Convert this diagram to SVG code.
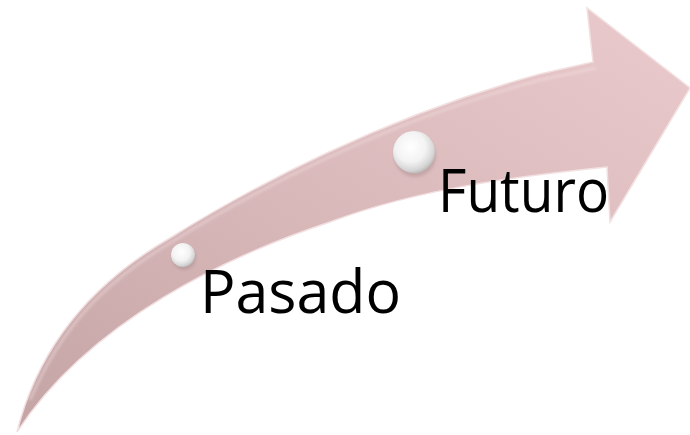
<svg xmlns="http://www.w3.org/2000/svg" width="690" height="435" viewBox="0 0 690 435">
  <defs>
    <linearGradient id="arrowFill" x1="0" y1="1" x2="1" y2="0">
      <stop offset="0" stop-color="#c4a4a5"/>
      <stop offset="0.45" stop-color="#d8b7b9"/>
      <stop offset="1" stop-color="#eacacc"/>
    </linearGradient>
    <radialGradient id="pearl" cx="0.42" cy="0.38" r="0.65">
      <stop offset="0" stop-color="#ffffff"/>
      <stop offset="0.55" stop-color="#f3f3f3"/>
      <stop offset="0.85" stop-color="#d6d6d6"/>
      <stop offset="1" stop-color="#b9b9b9"/>
    </radialGradient>
    <filter id="soft" x="-20%" y="-20%" width="140%" height="140%">
      <feGaussianBlur stdDeviation="1.5"/>
    </filter>
    <style>
      .label { font-family: "Open Sans", "Noto Sans", "Liberation Sans", sans-serif; font-size: 60px; fill: #000000; }
    </style>
  </defs>

  <g id="arrow">
    <path d="M17,432 C35,360 80,290 170,238 C250,188 380,118 540,74 L593,62 L587,8 L690,88 L610,222 L607,167 C520,176 420,188 330,222 C230,255 90,320 17,432 Z" fill="url(#arrowFill)" stroke="#f2e0e1" stroke-width="1.5"/>
    <path d="M30,400 C60,330 100,285 170,243 C250,193 380,123 540,80 L596,68" fill="none" stroke="#f4e4e5" stroke-width="2" opacity="0.6" filter="url(#soft)"/>
  </g>

  <g id="node-pasado">
    <circle cx="184" cy="258" r="12" fill="#9a8080" opacity="0.35" filter="url(#soft)"/>
    <circle cx="183" cy="255" r="12" fill="url(#pearl)"/>
    <text class="label" x="200" y="313" textLength="201" lengthAdjust="spacingAndGlyphs">Pasado</text>
  </g>

  <g id="node-futuro">
    <circle cx="415" cy="156" r="21" fill="#9a8080" opacity="0.35" filter="url(#soft)"/>
    <circle cx="414" cy="152" r="21" fill="url(#pearl)"/>
    <text class="label" x="438" y="212" textLength="171" lengthAdjust="spacingAndGlyphs">Futuro</text>
  </g>

  <g id="connectors"></g>
</svg>
